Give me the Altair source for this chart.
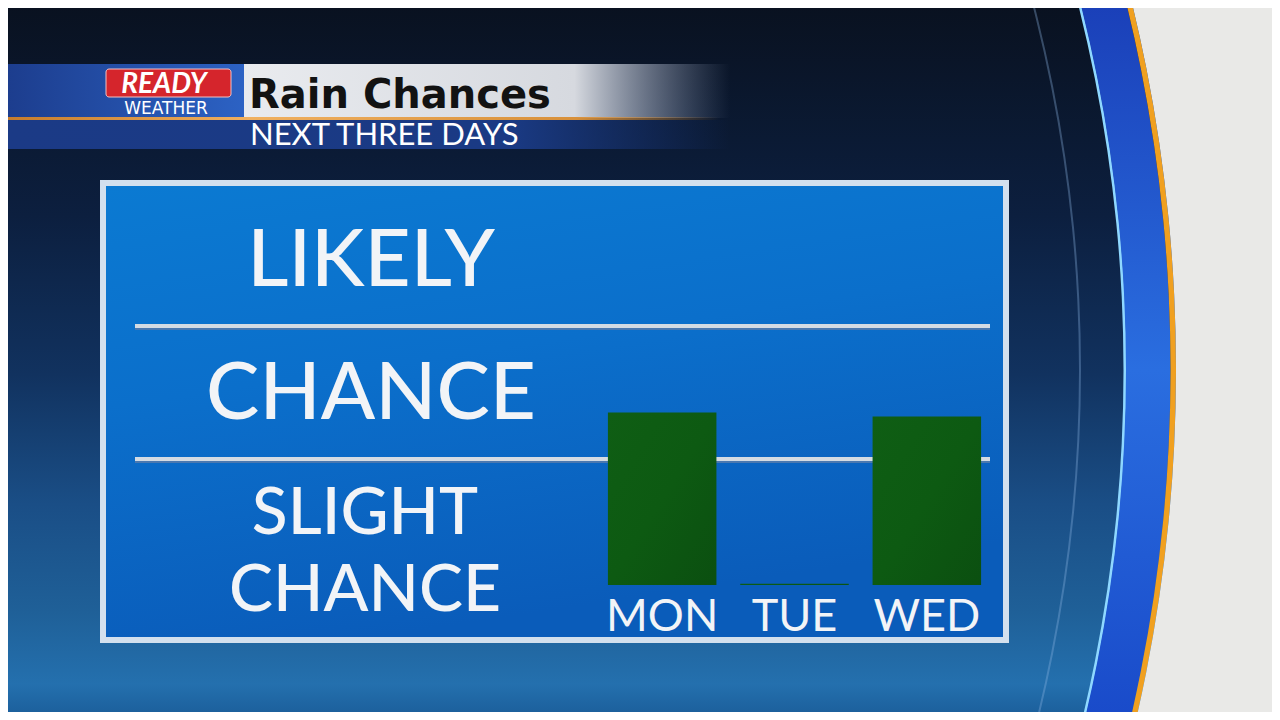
import altair as alt
import pandas as pd

# ---------------- data ----------------
days = ["MON", "TUE", "WED"]
rain_level = [1.35, 0.01, 1.32]          # 0..1 slight, 1..2 chance, 2..3 likely
level_labels = ["LIKELY", "CHANCE", "SLIGHT CHANCE"]
level_mid = [2.5, 1.5, 0.5]
band_edges = [1, 2]
title_text = "Rain Chances"
subtitle_text = "NEXT THREE DAYS"
brand_top = "READY"
brand_bottom = "WEATHER"

# ---------------- layout helpers ----------------
W, H = 1264, 704
OX, OY = 8, 8


def px(x):
    return x - OX


def py(y):
    return y - OY


one = pd.DataFrame({"k": [0]})
base = alt.Chart(one)


def grad(stops, x1=0, y1=0, x2=0, y2=1):
    return alt.LinearGradient(
        gradient="linear",
        stops=[alt.GradientStop(offset=o, color=c) for o, c in stops],
        x1=x1, y1=y1, x2=x2, y2=y2,
    )


def rect(x0, y0, x1, y1, fill, **kw):
    return base.mark_rect(fill=fill, **kw).encode(
        x=alt.value(px(x0)), x2=alt.value(px(x1)),
        y=alt.value(py(y0)), y2=alt.value(py(y1)),
    )


CX, CY = -373, 370


def ring(r_in, r_out, fill, **kw):
    return base.mark_arc(radius=r_out, radius2=r_in, theta=0, theta2=6.2832,
                         fill=fill, **kw).encode(
        x=alt.value(px(CX)), y=alt.value(py(CY)))


def label(text, x, y, **kw):
    return base.mark_text(**kw).encode(
        x=alt.value(px(x)), y=alt.value(py(y)), text=alt.value(text))


# ---------------- background ----------------
sky = rect(0, 0, 1280, 720, grad([
    (0, "#09111f"), (0.3, "#0c1f3f"), (0.52, "#11325f"),
    (0.7, "#1a4e86"), (0.85, "#1f6098"), (0.95, "#2470ae"), (1, "#1a5c98")]))
faint_line = ring(1452, 1454, "rgba(140,180,225,0.35)")
cyan_line = ring(1496.5, 1499.5, "#8fd8ff")
blue_band = ring(1499, 1543, grad([
    (0, "#1a3fb8"), (0.5, "#2a6ee0"), (1, "#1848c8")],
    x1=0, y1=0.38, x2=0, y2=0.62))
orange = ring(1543, 1549, "#f0a020")
gray_out = ring(1549, 4000, "#e9e9e7")

# ---------------- header ----------------
hdr_blue = rect(0, 64, 244, 118, grad([(0, "#1c3c8c"), (1, "#2c62c4")], x2=1, y2=0))
hdr_gray = rect(244, 64, 730, 118, grad([
    (0, "#e9ebef"), (0.68, "#d6d9df"), (1, "rgba(150,165,195,0)")], x2=1, y2=0))
hdr_low = rect(0, 120, 730, 149, grad([
    (0, "#1b3a86"), (0.7, "#1a3a84"), (1, "rgba(26,58,132,0)")], x2=1, y2=0))
hdr_line = rect(0, 117, 720, 120, grad([
    (0, "#c47a2a"), (0.35, "#f0b060"), (0.8, "#d8903a"), (1, "rgba(216,144,58,0)")],
    x2=1, y2=0))
ready_box = rect(106, 69, 231, 97, "#d5252c", cornerRadius=3,
                 stroke="#f3c0c0", strokeWidth=1)
ready_txt = label(brand_top, 164, 93, font="Lato", fontSize=28, fontWeight="bold",
                  fontStyle="italic", color="white", align="center",
                  baseline="alphabetic")
weather_txt = label(brand_bottom, 166, 114, font="DejaVu Sans", fontSize=17,
                    color="white", align="center", baseline="alphabetic")
title_txt = label(title_text, 249, 108, font="DejaVu Sans", fontSize=40,
                  fontWeight="bold", color="#121212", align="left",
                  baseline="alphabetic")
sub_txt = label(subtitle_text, 250, 145, font="Lato", fontSize=31, color="white",
                align="left", baseline="alphabetic")

# ---------------- panel ----------------
panel_border = rect(100, 180, 1009, 643, "#d3e0ee")
panel_fill = rect(106, 186, 1003, 637, grad([
    (0, "#0b7ad2"), (0.45, "#0b6fcb"), (1, "#0a5cba")], x1=0, y1=0, x2=0.3, y2=1))

yscale = alt.Scale(domain=[0, 1, 2, 3],
                   range=[py(585), py(459), py(326), py(193)])
xscale = alt.Scale(domain=days, range=[px(596), px(993)],
                   paddingInner=0.18, paddingOuter=0.09)

edges_df = pd.DataFrame({"edge": band_edges})
rules_shadow = alt.Chart(edges_df).mark_rule(color="#4a78b0", strokeWidth=2).encode(
    y=alt.Y("edge:Q", scale=yscale, axis=None),
    x=alt.value(px(135)), x2=alt.value(px(990)),
    yOffset=alt.value(3),
)
rules = alt.Chart(edges_df).mark_rule(color="#d4dbe3", strokeWidth=4).encode(
    y=alt.Y("edge:Q", scale=yscale, axis=None),
    x=alt.value(px(135)), x2=alt.value(px(990)),
)

lv_df = pd.DataFrame({"label": level_labels, "mid": level_mid})
big_labels = alt.Chart(lv_df).transform_filter(
    alt.datum.label != "SLIGHT CHANCE").mark_text(
    font="Lato", fontSize=80, fontWeight=500, color="#f2f4f7", align="center",
    baseline="middle", dy=2).encode(
    y=alt.Y("mid:Q", scale=yscale, axis=None),
    x=alt.value(px(371)),
    text="label:N",
)
small_labels = alt.Chart(lv_df).transform_filter(
    alt.datum.label == "SLIGHT CHANCE").mark_text(
    font="Lato", fontSize=66, fontWeight=500, color="#f2f4f7", align="center",
    baseline="middle", lineBreak=" ", lineHeight=77, dy=-8).encode(
    y=alt.Y("mid:Q", scale=yscale, axis=None),
    x=alt.value(px(365)),
    text="label:N",
)

bar_df = pd.DataFrame({"day": days, "level": rain_level})
bars = alt.Chart(bar_df).mark_bar(
    fill=grad([(0, "#0f5e14"), (0.5, "#0d5a12"), (1, "#0b4f10")],
              x1=0, y1=0, x2=1, y2=1)).encode(
    x=alt.X("day:N", sort=days, scale=xscale, axis=alt.Axis(
        title=None, orient="bottom", domain=False, ticks=False, tickSize=0,
        grid=False, labelPadding=0, labelFont="Lato", labelFontSize=45,
        labelColor="#f2f4f7", labelAngle=0, labelBaseline="alphabetic",
        offset=-(H - py(630)), zindex=2)),
    y=alt.Y("level:Q", scale=yscale, axis=None),
)

chart = alt.layer(
    sky, faint_line, cyan_line, blue_band, orange, gray_out,
    hdr_blue, hdr_gray, hdr_low, hdr_line, ready_box, ready_txt, weather_txt,
    title_txt, sub_txt,
    panel_border, panel_fill, rules_shadow, rules, big_labels, small_labels, bars,
).properties(
    width=W, height=H, padding=0,
    autosize=alt.AutoSizeParams(type="none"),
    background="#0b1630",
).configure_view(strokeWidth=0)

chart.save("out.html", embed_options={"renderer": "svg", "actions": False})
